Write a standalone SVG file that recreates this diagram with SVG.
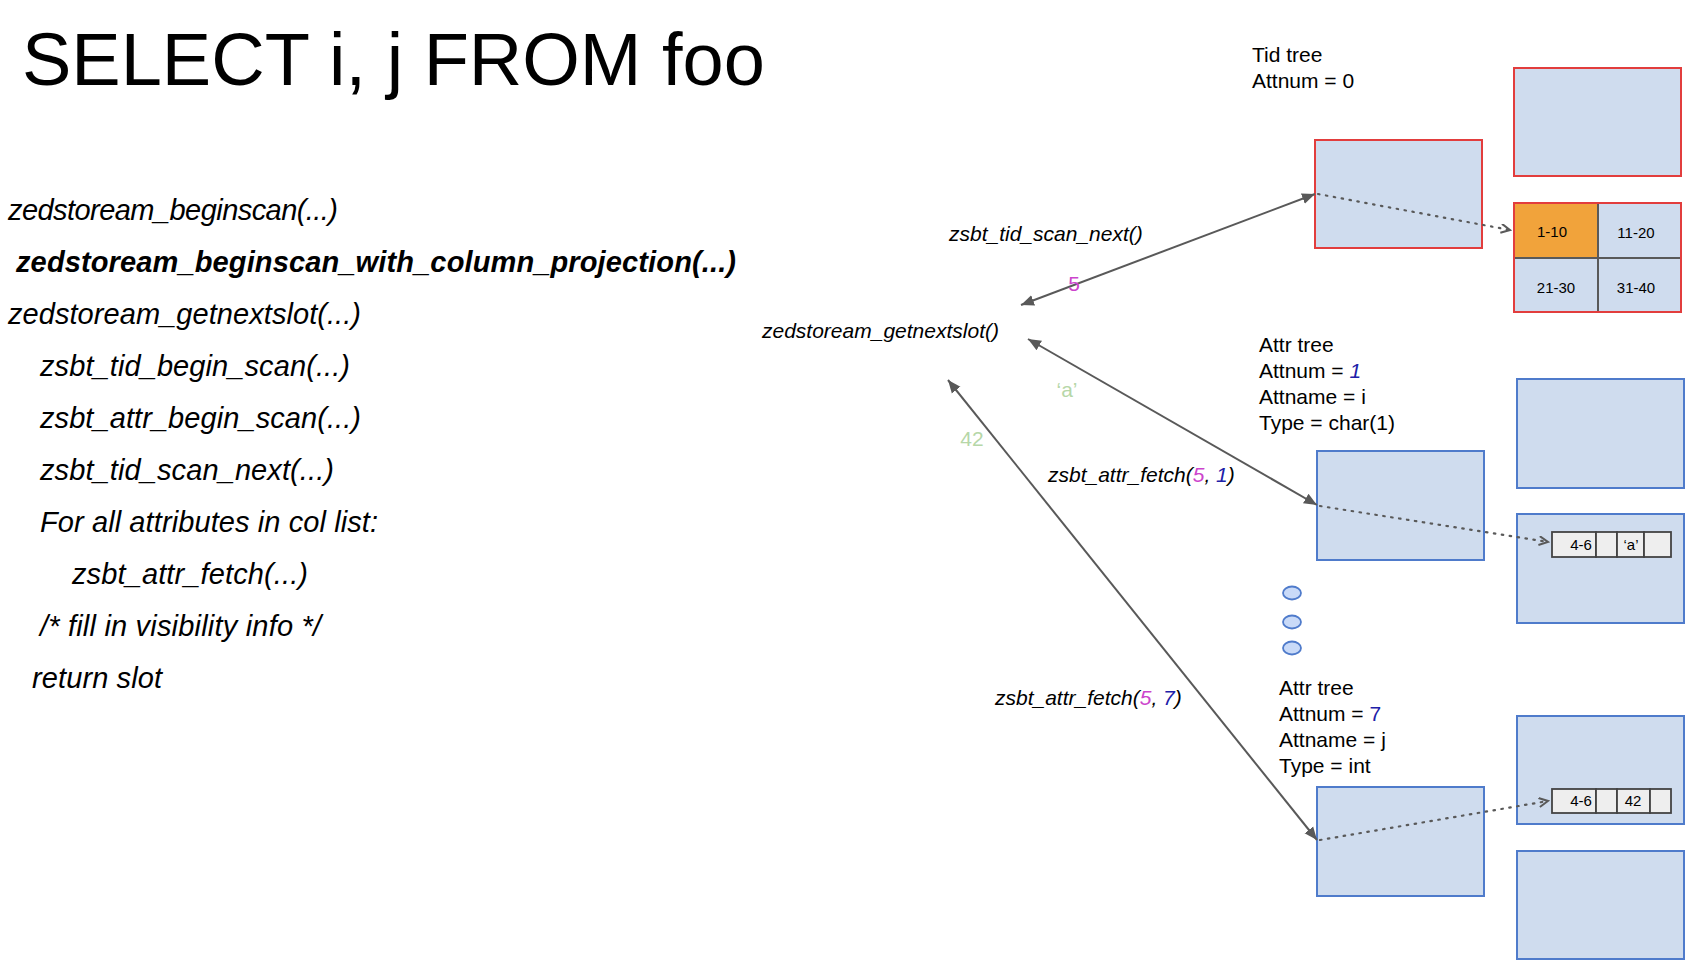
<svg xmlns="http://www.w3.org/2000/svg" width="1698" height="972" viewBox="0 0 1698 972">
<style>
text{font-family:"Liberation Sans",Arial,sans-serif;fill:#000}
.code{font-size:29px;font-style:italic}
.lbl{font-size:21px;font-style:italic}
.info{font-size:21px}
.small{font-size:15px;text-anchor:middle}
.box{fill:#cfdcee;stroke:#4f7bcb;stroke-width:2}
.rbox{fill:#cfdcee;stroke:#e23d3d;stroke-width:2}
.conn{stroke:#595959;stroke-width:2;fill:none}
.dot{stroke:#595959;stroke-width:2.2;fill:none;stroke-dasharray:1.5 6.5;stroke-linecap:round}
.mag{fill:#cc44cc}
.blu{fill:#2020a8}
.grn{fill:#b6d7a8;font-size:21px;font-style:normal}
.rec{fill:#eeeeee;stroke:#434343;stroke-width:1.8}
</style>
<defs>
<marker id="ah" markerUnits="userSpaceOnUse" markerWidth="14" markerHeight="12" refX="13" refY="6" orient="auto-start-reverse">
<path d="M0,0.5 L13,6 L0,11.5 z" fill="#595959"/>
</marker>
<marker id="oh" markerUnits="userSpaceOnUse" markerWidth="12" markerHeight="12" refX="10" refY="5" orient="auto">
<path d="M1,0.5 L10,5 L1,9.5" fill="none" stroke="#595959" stroke-width="2"/>
</marker>
</defs>
<rect width="1698" height="972" fill="#fff"/>

<g id="title">
<text x="22" y="85" style="font-size:74px">SELECT i, j FROM foo</text>
</g>

<g id="code-list">
<text class="code" x="8" y="220" textLength="330">zedstoream_beginscan(...)</text>
<text class="code" x="16" y="272" font-weight="bold" textLength="720">zedstoream_beginscan_with_column_projection(...)</text>
<text class="code" x="8" y="324" textLength="353">zedstoream_getnextslot(...)</text>
<text class="code" x="40" y="376" textLength="310">zsbt_tid_begin_scan(...)</text>
<text class="code" x="40" y="428" textLength="321">zsbt_attr_begin_scan(...)</text>
<text class="code" x="40" y="480" textLength="294">zsbt_tid_scan_next(...)</text>
<text class="code" x="40" y="532" textLength="338">For all attributes in col list:</text>
<text class="code" x="72" y="584" textLength="236">zsbt_attr_fetch(...)</text>
<text class="code" x="40" y="636" textLength="281">/* fill in visibility info */</text>
<text class="code" x="32" y="688" textLength="130">return slot</text>
</g>

<g id="getnextslot">
<text class="lbl" x="762" y="338">zedstoream_getnextslot()</text>
</g>

<g id="tid-tree">
<text class="info" x="1252" y="62">Tid tree</text>
<text class="info" x="1252" y="88">Attnum = 0</text>
<rect class="rbox" x="1315" y="140" width="167" height="108"/>
</g>

<g id="tid-leaf-top">
<rect class="rbox" x="1514" y="68" width="167" height="108"/>
</g>

<g id="tid-leaf-grid">
<rect x="1514" y="203" width="167" height="109" fill="#cfdcee"/>
<rect x="1514" y="203" width="84" height="55" fill="#f1a33b"/>
<line x1="1598" y1="203" x2="1598" y2="312" stroke="#595959" stroke-width="2"/>
<line x1="1514" y1="258" x2="1681" y2="258" stroke="#595959" stroke-width="2"/>
<rect x="1514" y="203" width="167" height="109" fill="none" stroke="#e23d3d" stroke-width="2"/>
<text class="small" x="1552" y="237">1-10</text>
<text class="small" x="1636" y="238">11-20</text>
<text class="small" x="1556" y="293">21-30</text>
<text class="small" x="1636" y="293">31-40</text>
</g>

<g id="attr-tree-1">
<text class="info" x="1259" y="352">Attr tree</text>
<text class="info" x="1259" y="378">Attnum = <tspan class="blu" font-style="italic">1</tspan></text>
<text class="info" x="1259" y="404">Attname = i</text>
<text class="info" x="1259" y="430">Type = char(1)</text>
<rect class="box" x="1317" y="451" width="167" height="109"/>
</g>

<g id="attr1-leaf-top">
<rect class="box" x="1517" y="379" width="167" height="109"/>
</g>

<g id="attr1-leaf">
<rect class="box" x="1517" y="514" width="167" height="109"/>
<rect class="rec" x="1552" y="532" width="44" height="25"/>
<rect class="rec" x="1596" y="532" width="21" height="25"/>
<rect class="rec" x="1617" y="532" width="27" height="25"/>
<rect class="rec" x="1644" y="532" width="27" height="25"/>
<text class="small" x="1581" y="550">4-6</text>
<text class="small" x="1631" y="550">‘a’</text>
</g>

<g id="ellipsis">
<ellipse cx="1292" cy="593" rx="9" ry="6.5" fill="#c9daf8" stroke="#4f7bcb" stroke-width="1.8"/>
<ellipse cx="1292" cy="622" rx="9" ry="6.5" fill="#c9daf8" stroke="#4f7bcb" stroke-width="1.8"/>
<ellipse cx="1292" cy="648" rx="9" ry="6.5" fill="#c9daf8" stroke="#4f7bcb" stroke-width="1.8"/>
</g>

<g id="attr-tree-2">
<text class="info" x="1279" y="695">Attr tree</text>
<text class="info" x="1279" y="721">Attnum = <tspan class="blu">7</tspan></text>
<text class="info" x="1279" y="747">Attname = j</text>
<text class="info" x="1279" y="773">Type = int</text>
<rect class="box" x="1317" y="787" width="167" height="109"/>
</g>

<g id="attr2-leaf">
<rect class="box" x="1517" y="716" width="167" height="108"/>
<rect class="rec" x="1552" y="789" width="44" height="24"/>
<rect class="rec" x="1596" y="789" width="21" height="24"/>
<rect class="rec" x="1617" y="789" width="33" height="24"/>
<rect class="rec" x="1650" y="789" width="21" height="24"/>
<text class="small" x="1581" y="806">4-6</text>
<text class="small" x="1633" y="806">42</text>
</g>

<g id="attr2-leaf-bottom">
<rect class="box" x="1517" y="851" width="167" height="108"/>
</g>

<g id="connectors">
<line class="conn" x1="1021" y1="305" x2="1315" y2="194" marker-start="url(#ah)" marker-end="url(#ah)"/>
<line class="conn" x1="1028" y1="339" x2="1317" y2="505" marker-start="url(#ah)" marker-end="url(#ah)"/>
<line class="conn" x1="948" y1="380" x2="1317" y2="840" marker-start="url(#ah)" marker-end="url(#ah)"/>
<line class="dot" x1="1318" y1="194" x2="1510" y2="230" marker-end="url(#oh)"/>
<line class="dot" x1="1320" y1="506" x2="1548" y2="542" marker-end="url(#oh)"/>
<line class="dot" x1="1320" y1="840" x2="1548" y2="801" marker-end="url(#oh)"/>
<text class="lbl" x="949" y="241">zsbt_tid_scan_next()</text>
<text class="mag" x="1074" y="291" style="font-size:21px" text-anchor="middle">5</text>
<text class="grn" x="1067" y="397" text-anchor="middle">‘a’</text>
<text class="grn" x="972" y="446" text-anchor="middle">42</text>
<text class="lbl" x="1048" y="482">zsbt_attr_fetch(<tspan class="mag">5</tspan>, <tspan class="blu">1</tspan>)</text>
<text class="lbl" x="995" y="705">zsbt_attr_fetch(<tspan class="mag">5</tspan>, <tspan class="blu">7</tspan>)</text>
</g>
</svg>
